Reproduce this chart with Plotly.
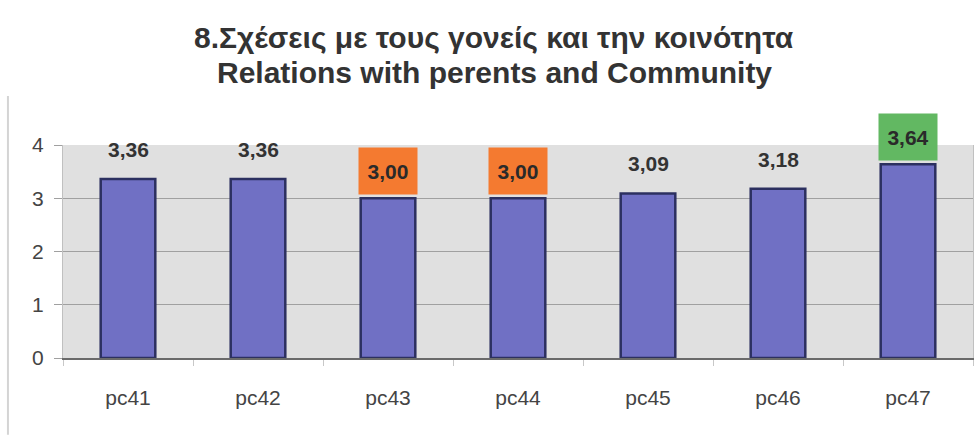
import plotly.graph_objects as go

# Mean score per item
categories = ["pc41", "pc42", "pc43", "pc44", "pc45", "pc46", "pc47"]
values = [3.36, 3.36, 3.00, 3.00, 3.09, 3.18, 3.64]
# Highlight colour behind each value label (None = no box)
label_bg = [None, None, "#f47a30", "#f47a30", None, None, "#62b862"]
y_ticks = [0, 1, 2, 3, 4]

FONT = "Liberation Sans, Arial"

def fmt(v):
    return f"{v:.2f}".replace(".", ",")

fig = go.Figure()
fig.add_trace(go.Bar(
    x=categories, y=values, width=0.42,
    marker=dict(color="#7070c4", line=dict(color="#2c3060", width=2.5)),
    hoverinfo="skip",
))

for c, v, bg in zip(categories, values, label_bg):
    if bg:
        fig.add_annotation(
            x=c, y=v, text=f"<b>{fmt(v)}</b>", showarrow=False,
            yanchor="bottom", yshift=3, width=56, height=44, borderpad=1,
            font=dict(family=FONT, size=21, color="#2a2a2a"),
            bgcolor=bg,
        )
    else:
        fig.add_annotation(
            x=c, y=v, text=f"<b>{fmt(v)}</b>", showarrow=False,
            yanchor="bottom", yshift=16,
            font=dict(family=FONT, size=21, color="#333333"),
        )

# two-line chart heading
fig.add_annotation(
    xref="paper", yref="paper", x=0.474, y=1.0, yshift=108,
    text="<b>8.Σχέσεις με τους γονείς και την κοινότητα</b>",
    showarrow=False, xanchor="center", yanchor="middle",
    font=dict(family=FONT, size=30, color="#333333"),
)
fig.add_annotation(
    xref="paper", yref="paper", x=0.474, y=1.0, yshift=73,
    text="<b>Relations with perents and Community</b>",
    showarrow=False, xanchor="center", yanchor="middle",
    font=dict(family=FONT, size=30, color="#333333"),
)

# thin frame line on the left edge of the chart area
fig.add_shape(type="line", xref="paper", yref="paper",
              x0=-0.0605, x1=-0.0605, y0=-0.36, y1=1.23,
              line=dict(color="#d4d4d4", width=2))

fig.update_layout(
    width=976, height=435,
    margin=dict(l=63, r=3, t=145, b=77),
    paper_bgcolor="white", plot_bgcolor="#e0e0e0",
    showlegend=False,
    xaxis=dict(
        showgrid=False, ticks="outside", tickson="boundaries", ticklen=6,
        tickcolor="#c8c8c8", showline=True, linecolor="#6a6a6a", linewidth=1.5,
        ticklabelstandoff=20,
        tickfont=dict(family=FONT, size=21, color="#444444"),
    ),
    yaxis=dict(
        range=[0, 4], tickvals=y_ticks, showgrid=True, gridcolor="#a0a0a0",
        gridwidth=1, zeroline=False, ticks="outside", ticklen=8,
        tickcolor="#a0a0a0", showline=True, linecolor="#c0c0c0", mirror=True,
        ticklabelstandoff=6,
        tickfont=dict(family=FONT, size=21, color="#444444"),
    ),
    bargap=0.58,
)

fig.write_html("out.html")
